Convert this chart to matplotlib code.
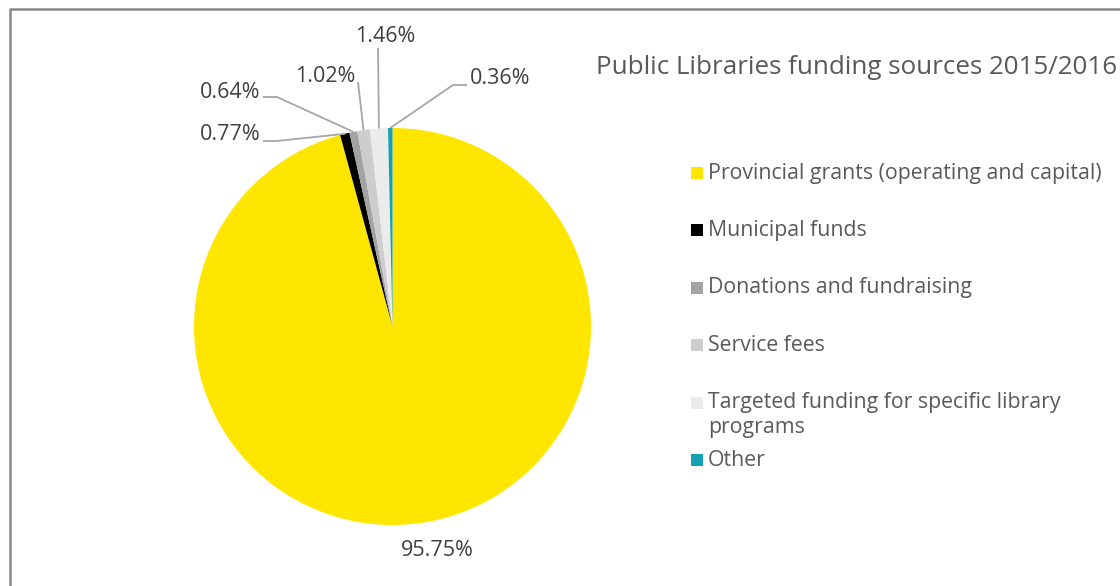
import matplotlib
matplotlib.use("Agg")
import numpy as np
import matplotlib.pyplot as plt
from matplotlib.lines import Line2D
from matplotlib.patches import Rectangle

plt.rcParams["font.family"] = ["Open Sans", "DejaVu Sans"]

# ── Data ─────────────────────────────────────────────────────
categories = [
    "Provincial grants (operating and capital)",
    "Municipal funds",
    "Donations and fundraising",
    "Service fees",
    "Targeted funding for specific library\nprograms",
    "Other",
]
shares = [95.75, 0.77, 0.64, 1.02, 1.46, 0.36]
colors = ["#FFE600", "#000000", "#A3A3A3", "#CDCDCD", "#EBEBEB", "#13A0B1"]

TITLE = "Public Libraries funding sources 2015/2016"

# ── Layout (pixels) ──────────────────────────────────────────
W, H, DPI = 1120, 586, 100
CX, CY, R = 392.5, 326.5, 198.5          # pie centre / radius
TEXT_DARK = "#404040"
TEXT_MID = "#595959"
LEADER = "#A6A6A6"

# label text centre, leader start, leader elbow (None = 95.75% has no leader)
label_text_px = [(437, 551), (230, 134), (230, 92), (325, 77), (385, 37), (500, 78)]
leader_px = [
    None,
    [(263, 141), (277, 141)],
    [(263, 97), (277, 97)],
    [(358, 82), (358, 82)],
    [(378, 48), (378, 48)],
    [(467, 85), (453, 85)],
]


def px2data(px, py):
    return (px - CX) / R, (CY - py) / R


fig = plt.figure(figsize=(W / DPI, H / DPI), dpi=DPI)
ax = fig.add_axes([(CX - R) / W, (H - CY - R) / H, 2 * R / W, 2 * R / H])

wedges, _ = ax.pie(shares, colors=colors, startangle=90, counterclock=False,
                   radius=1, wedgeprops=dict(linewidth=0))
# pie() pads the limits; pin them so radius 1 fills the axes box
ax.set_xlim(-1, 1)
ax.set_ylim(-1, 1)
ax.set_aspect("equal")
ax.axis("off")

# ── Data labels with leader lines ────────────────────────────
for w, val, tpos, lead in zip(wedges, shares, label_text_px, leader_px):
    tx, ty = px2data(*tpos)
    ax.text(tx, ty, f"{val:.2f}%", ha="center", va="center",
            fontsize=15.5, color=TEXT_DARK, clip_on=False)
    if lead is None:
        continue
    mid = np.deg2rad((w.theta1 + w.theta2) / 2)
    ex, ey = np.cos(mid), np.sin(mid)
    (sx, sy), (bx, by) = px2data(*lead[0]), px2data(*lead[1])
    ax.plot([sx, bx, ex], [sy, by, ey], color=LEADER, lw=1.3,
            clip_on=False, solid_capstyle="butt")

# ── Title ────────────────────────────────────────────────────
fig.text(596 / W, 1 - 67 / H, TITLE, ha="left", va="center",
         fontsize=18.7, color=TEXT_MID)

# ── Legend ───────────────────────────────────────────────────
sq = 12
for i, (lab, col) in enumerate(zip(categories, colors)):
    yc = 173 + 57.4 * i
    fig.add_artist(Rectangle((691 / W, 1 - (yc + sq / 2) / H), sq / W, sq / H,
                             transform=fig.transFigure, facecolor=col,
                             edgecolor="none"))
    first, *rest = lab.split("\n")
    fig.text(708 / W, 1 - yc / H, first, ha="left", va="center",
             fontsize=15.3, color=TEXT_MID)
    for k, extra in enumerate(rest, start=1):
        fig.text(708 / W, 1 - (yc + 25 * k) / H, extra, ha="left",
                 va="center", fontsize=15.3, color=TEXT_MID)

# ── Chart frame (left and top edges) ─────────────────────────
fig.add_artist(Line2D([10 / W, 10 / W, 1.01], [-0.01, 1 - 9 / H, 1 - 9 / H],
                      transform=fig.transFigure, color="#888888", lw=1.8))

fig.savefig("out.png", dpi=DPI, facecolor="white")
